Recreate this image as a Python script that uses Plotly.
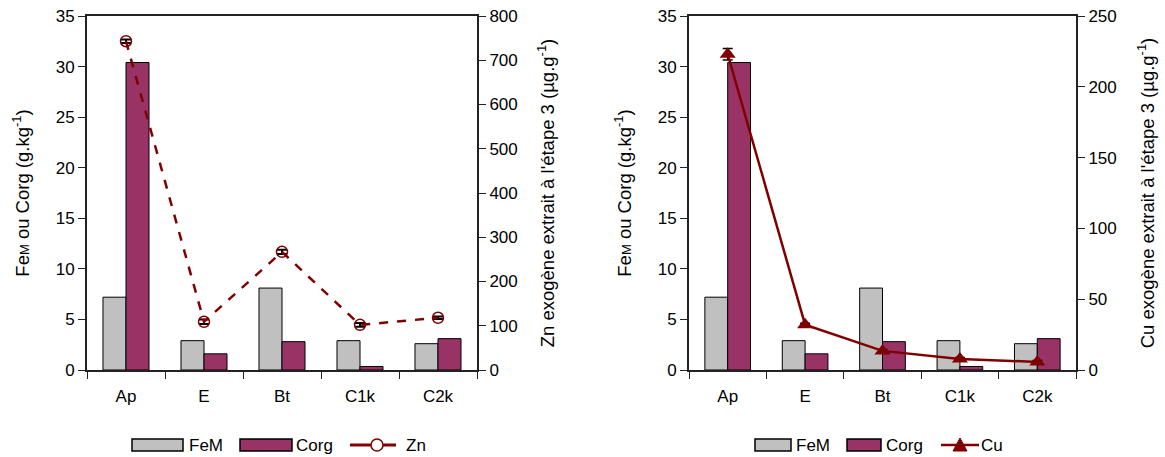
import plotly.graph_objects as go

horizons = ["Ap", "E", "Bt", "C1k", "C2k"]
fem = [7.2, 2.9, 8.1, 2.9, 2.6]
corg = [30.4, 1.6, 2.8, 0.35, 3.1]
zn = [743, 109, 267, 102, 118]
zn_err = [4, 5, 5, 4, 3]
cu = [223, 32, 13.5, 7.8, 5.7]
cu_err = [4, 1, 1, 1, 1]

GREY = "#C0C0C0"
PURPLE = "#993366"
RED = "#800000"
FONT = "Liberation Sans, Arial, sans-serif"
W, H = 1165, 457


def px(x):
    return x / W


def py(y):
    return 1 - y / H


fig = go.Figure()

# Left panel
fig.add_trace(go.Bar(x=horizons, y=fem, name="FeM", marker=dict(color=GREY, line=dict(color="black", width=1)),
                     xaxis="x", yaxis="y"))
fig.add_trace(go.Bar(x=horizons, y=corg, name="Corg", marker=dict(color=PURPLE, line=dict(color="black", width=1)),
                     xaxis="x", yaxis="y"))
fig.add_trace(go.Scatter(x=horizons, y=zn, name="Zn", mode="lines+markers",
                         line=dict(color=RED, width=2.5, dash="dash"),
                         marker=dict(symbol="circle-open", size=11, color=RED, line=dict(width=1.5)),
                         error_y=dict(type="data", array=zn_err, color="black", thickness=2, width=5),
                         xaxis="x", yaxis="y2"))

# Right panel
fig.add_trace(go.Bar(x=horizons, y=fem, name="FeM", marker=dict(color=GREY, line=dict(color="black", width=1)),
                     xaxis="x2", yaxis="y3"))
fig.add_trace(go.Bar(x=horizons, y=corg, name="Corg", marker=dict(color=PURPLE, line=dict(color="black", width=1)),
                     xaxis="x2", yaxis="y3"))
fig.add_trace(go.Scatter(x=horizons, y=cu, name="Cu", mode="lines+markers",
                         line=dict(color=RED, width=2.5),
                         marker=dict(symbol="triangle-up", size=14, color=RED),
                         error_y=dict(type="data", array=cu_err, color="black", thickness=1.5, width=5),
                         xaxis="x2", yaxis="y4"))

dom_y = [py(370), py(16)]
dom_x1 = [px(87), px(477)]
dom_x2 = [px(689), px(1076)]

xcommon = dict(type="category", showline=True, linecolor="#222", linewidth=2, mirror=True,
               ticks="outside", tickson="boundaries", ticklen=7, tickcolor="#222", tickwidth=1,
               ticklabelstandoff=10, automargin=False,
               tickfont=dict(size=17, family=FONT, color="black"), showgrid=False, zeroline=False)
ycommon = dict(showline=True, linecolor="#222", linewidth=2, ticks="outside", ticklen=7,
               tickcolor="#222", tickwidth=1, tickfont=dict(size=17, family=FONT, color="black"),
               showgrid=False, zeroline=False, automargin=False)

ytitle_left = "Fe<span style='font-size:13px'>M</span> ou Corg (g.kg<sup>-1</sup>)"
tfont = dict(size=18.5, family=FONT, color="black")

fig.update_layout(
    width=W, height=H,
    margin=dict(l=0, r=0, t=0, b=0),
    paper_bgcolor="white", plot_bgcolor="white",
    font=dict(family=FONT, color="black"),
    barmode="group", bargap=0.41, bargroupgap=0,
    showlegend=False,
    xaxis=dict(domain=dom_x1, anchor="y", **xcommon),
    yaxis=dict(domain=dom_y, anchor="x", range=[0, 35], dtick=5,
               title=dict(text=ytitle_left, font=tfont, standoff=21), **ycommon),
    yaxis2=dict(overlaying="y", side="right", anchor="x", range=[0, 800], dtick=100,
                title=dict(text="Zn exogène extrait à l'étape 3 (µg.g<sup>-1</sup>)", font=tfont, standoff=24),
                **ycommon),
    xaxis2=dict(domain=dom_x2, anchor="y3", **xcommon),
    yaxis3=dict(domain=dom_y, anchor="x2", range=[0, 35], dtick=5,
                title=dict(text=ytitle_left, font=tfont, standoff=21), **ycommon),
    yaxis4=dict(overlaying="y3", side="right", anchor="x2", range=[0, 250], dtick=50,
                title=dict(text="Cu exogène extrait à l'étape 3 (µg.g<sup>-1</sup>)", font=tfont, standoff=25),
                **ycommon),
)

# Manual legends (pixel positions converted to paper coordinates)
LY = 445
shapes = []
annotations = []


def rect(x0, x1, color):
    shapes.append(dict(type="rect", xref="paper", yref="paper", x0=px(x0), x1=px(x1),
                       y0=py(LY + 6), y1=py(LY - 6), fillcolor=color, line=dict(color="black", width=1.5)))


def label(x, text):
    annotations.append(dict(xref="paper", yref="paper", x=px(x), y=py(LY), text=text, showarrow=False,
                            xanchor="left", yanchor="middle", font=dict(size=17, family=FONT, color="black")))


# left legend
rect(132, 183, GREY)
label(187, "FeM")
rect(240, 292, PURPLE)
label(294, "Corg")
shapes.append(dict(type="line", xref="paper", yref="paper", x0=px(350), x1=px(396), y0=py(LY), y1=py(LY),
                   line=dict(color=RED, width=3)))
shapes.append(dict(type="circle", xref="paper", yref="paper", x0=px(371), x1=px(383), y0=py(LY + 6),
                   y1=py(LY - 6), fillcolor="white", line=dict(color=RED, width=1.5)))
label(404, "Zn")

# right legend
rect(755, 791, GREY)
label(794, "FeM")
rect(847, 881, PURPLE)
label(884, "Corg")
shapes.append(dict(type="line", xref="paper", yref="paper", x0=px(941), x1=px(979), y0=py(LY), y1=py(LY),
                   line=dict(color=RED, width=2.5)))
tx, ty = 960, LY
shapes.append(dict(type="path", xref="paper", yref="paper",
                   path=f"M {px(tx-7)} {py(ty+6)} L {px(tx+7)} {py(ty+6)} L {px(tx)} {py(ty-7)} Z",
                   fillcolor=RED, line=dict(color=RED, width=1)))
label(979, "Cu")

fig.update_layout(shapes=shapes, annotations=annotations)

fig.write_html("out.html", config={"displayModeBar": False},
               post_script="document.body.style.margin='0';document.body.style.overflow='hidden';")
